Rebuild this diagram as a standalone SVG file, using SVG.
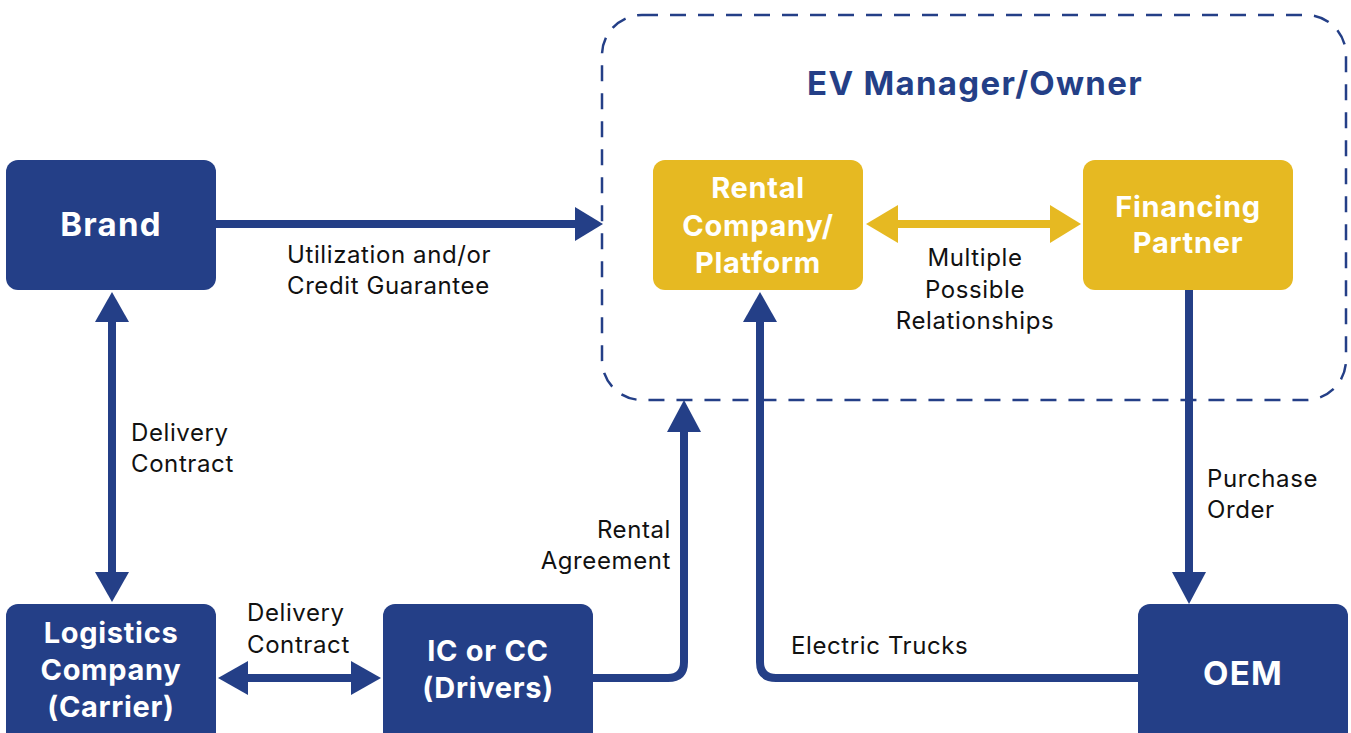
<svg xmlns="http://www.w3.org/2000/svg" width="1351" height="733" viewBox="0 0 1351 733">
<style>
.navy{fill:#243f87}
.gold{fill:#e6b922}
.bt{font-family:Inter,Roboto,"Liberation Sans",sans-serif;font-weight:700;fill:#fff;text-anchor:middle;font-size:29px;letter-spacing:0.7px}
.big{font-size:33px;letter-spacing:1.2px}
.lb{font-family:Inter,"Liberation Sans",sans-serif;font-size:24px;letter-spacing:0.6px;fill:#111}
.ln{fill:none;stroke:#243f87;stroke-width:8}
.lg{fill:none;stroke:#e6b922;stroke-width:8}
</style>
<rect width="1351" height="733" fill="#fff"/>
<g id="container">
<rect x="602" y="15" width="744" height="385" rx="40" fill="none" stroke="#243f87" stroke-width="2.5" stroke-dasharray="16 12"/>
<text x="975" y="95" text-anchor="middle" font-family="Inter,Roboto,'Liberation Sans',sans-serif" font-weight="700" font-size="33" letter-spacing="1.3" fill="#243f87">EV Manager/Owner</text>
</g>
<g id="connectors">
<line class="ln" x1="216" y1="224" x2="577" y2="224"/>
<polygon class="navy" points="575,207 603,224 575,241"/>
<text class="lb" x="287" y="263">Utilization and/or</text>
<text class="lb" x="287" y="294">Credit Guarantee</text>
<line class="ln" x1="112" y1="320" x2="112" y2="574"/>
<polygon class="navy" points="95,322 112,292 129,322"/>
<polygon class="navy" points="95,572 112,602 129,572"/>
<text class="lb" x="131" y="441">Delivery</text>
<text class="lb" x="131" y="472">Contract</text>
<line class="ln" x1="246" y1="678" x2="353" y2="678"/>
<polygon class="navy" points="248,661 218,678 248,695"/>
<polygon class="navy" points="351,661 381,678 351,695"/>
<text class="lb" x="247" y="621">Delivery</text>
<text class="lb" x="247" y="653">Contract</text>
<path class="ln" d="M593,678 H668 Q684,678 684,662 V430"/>
<polygon class="navy" points="667,432 684,400 701,432"/>
<text class="lb" x="671" y="538" text-anchor="end">Rental</text>
<text class="lb" x="671" y="569" text-anchor="end">Agreement</text>
<path class="ln" d="M1138,678 H776 Q760,678 760,662 V320"/>
<polygon class="navy" points="743,322 760,292 777,322"/>
<text class="lb" x="791" y="654">Electric Trucks</text>
<line class="ln" x1="1189" y1="290" x2="1189" y2="574"/>
<polygon class="navy" points="1172,572 1189,604 1206,572"/>
<text class="lb" x="1207" y="487">Purchase</text>
<text class="lb" x="1207" y="518">Order</text>
<line class="lg" x1="895" y1="224" x2="1052" y2="224"/>
<polygon class="gold" points="898,205 866,224 898,243"/>
<polygon class="gold" points="1050,205 1081,224 1050,243"/>
<text class="lb" x="975" y="266" text-anchor="middle">Multiple</text>
<text class="lb" x="975" y="298" text-anchor="middle">Possible</text>
<text class="lb" x="975" y="329" text-anchor="middle">Relationships</text>
</g>
<g id="brand">
<rect class="navy" x="6" y="160" width="210" height="130" rx="12"/>
<text class="bt big" x="111" y="236">Brand</text>
</g>
<g id="rental">
<rect class="gold" x="653" y="160" width="210" height="130" rx="12"/>
<text class="bt" x="758" y="198">Rental</text>
<text class="bt" x="758" y="236">Company/</text>
<text class="bt" x="758" y="273">Platform</text>
</g>
<g id="financing">
<rect class="gold" x="1083" y="160" width="210" height="130" rx="12"/>
<text class="bt" x="1188" y="217">Financing</text>
<text class="bt" x="1188" y="253">Partner</text>
</g>
<g id="logistics">
<rect class="navy" x="6" y="604" width="210" height="140" rx="12"/>
<text class="bt" x="111" y="643">Logistics</text>
<text class="bt" x="111" y="680">Company</text>
<text class="bt" x="111" y="717">(Carrier)</text>
</g>
<g id="iccc">
<rect class="navy" x="383" y="604" width="210" height="140" rx="12"/>
<text class="bt" x="488" y="661">IC or CC</text>
<text class="bt" x="488" y="698">(Drivers)</text>
</g>
<g id="oem">
<rect class="navy" x="1138" y="604" width="210" height="140" rx="12"/>
<text class="bt big" x="1243" y="685">OEM</text>
</g>
</svg>
